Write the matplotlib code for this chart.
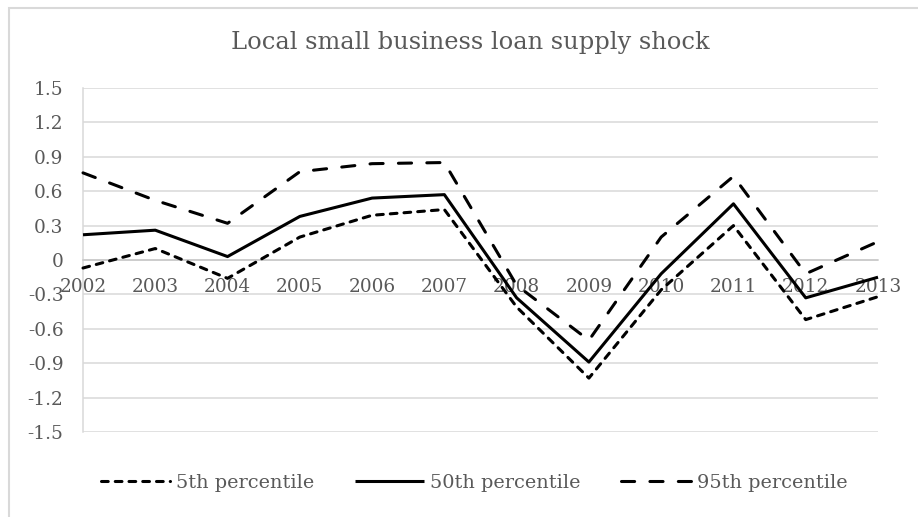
import matplotlib
matplotlib.use('Agg')
import matplotlib.pyplot as plt
from matplotlib.patches import Rectangle

years = ['2002', '2003', '2004', '2005', '2006', '2007',
         '2008', '2009', '2010', '2011', '2012', '2013']
p5 = [-0.07, 0.10, -0.16, 0.20, 0.39, 0.44, -0.41, -1.03, -0.26, 0.30, -0.52, -0.32]
p50 = [0.22, 0.26, 0.03, 0.38, 0.54, 0.57, -0.33, -0.89, -0.12, 0.49, -0.33, -0.15]
p95 = [0.76, 0.52, 0.32, 0.77, 0.84, 0.85, -0.22, -0.70, 0.20, 0.73, -0.12, 0.16]

y_ticks = [1.5, 1.2, 0.9, 0.6, 0.3, 0, -0.3, -0.6, -0.9, -1.2, -1.5]
y_tick_labels = ['1.5', '1.2', '0.9', '0.6', '0.3', '0',
                 '-0.3', '-0.6', '-0.9', '-1.2', '-1.5']

W, H = 918, 517
txt = '#595959'
grid = '#d9d9d9'
plt.rcParams['font.family'] = ['DejaVu Serif']

fig = plt.figure(figsize=(W / 100, H / 100), dpi=100)
ax = fig.add_axes([83 / W, (H - 432) / H, (878 - 83) / W, (432 - 88) / H])

x = list(range(len(years)))
lw = 2.2
ax.plot(x, p5, color='black', lw=lw, dashes=(2.2, 2.3), dash_capstyle='round',
        label='5th percentile', clip_on=False, zorder=3)
ax.plot(x, p50, color='black', lw=lw, solid_capstyle='butt',
        label='50th percentile', clip_on=False, zorder=3)
ax.plot(x, p95, color='black', lw=lw, dashes=(4.3, 5.0), dash_capstyle='round',
        label='95th percentile', clip_on=False, zorder=3)

ax.set_xlim(0, len(years) - 1)
ax.set_ylim(-1.5, 1.5)
ax.set_yticks(y_ticks)
ax.set_yticklabels(y_tick_labels)
ax.set_xticks(x)
ax.set_xticklabels(years)
ax.grid(axis='y', color=grid, lw=1.1)
ax.set_axisbelow(True)

for s in ['top', 'right']:
    ax.spines[s].set_visible(False)
ax.spines['left'].set_color(grid)
ax.spines['left'].set_linewidth(1.1)
ax.spines['bottom'].set_position(('data', 0))
ax.spines['bottom'].set_color('#c8c8c8')
ax.spines['bottom'].set_linewidth(1.1)

ax.tick_params(axis='y', length=0, pad=14, labelsize=13.3, labelcolor=txt)
ax.tick_params(axis='x', length=0, pad=13, labelsize=13.3, labelcolor=txt)

fig.text(470 / W, (H - 42) / H, 'Local small business loan supply shock',
         ha='center', va='center', fontsize=17.4, color=txt)

leg = fig.legend(loc='center', bbox_to_anchor=(474 / W, (H - 483) / H), ncol=3,
                 frameon=False, fontsize=13.9, handlelength=3.6,
                 handletextpad=0.3, columnspacing=2.1)
for t in leg.get_texts():
    t.set_color(txt)

# chart area border (only left and top edges fall inside the picture)
fig.add_artist(Rectangle((9 / W, -0.1), 2, (H - 8) / H + 0.1,
                         transform=fig.transFigure, fill=False,
                         edgecolor=grid, lw=1.5))

fig.savefig('out.png', dpi=100)
